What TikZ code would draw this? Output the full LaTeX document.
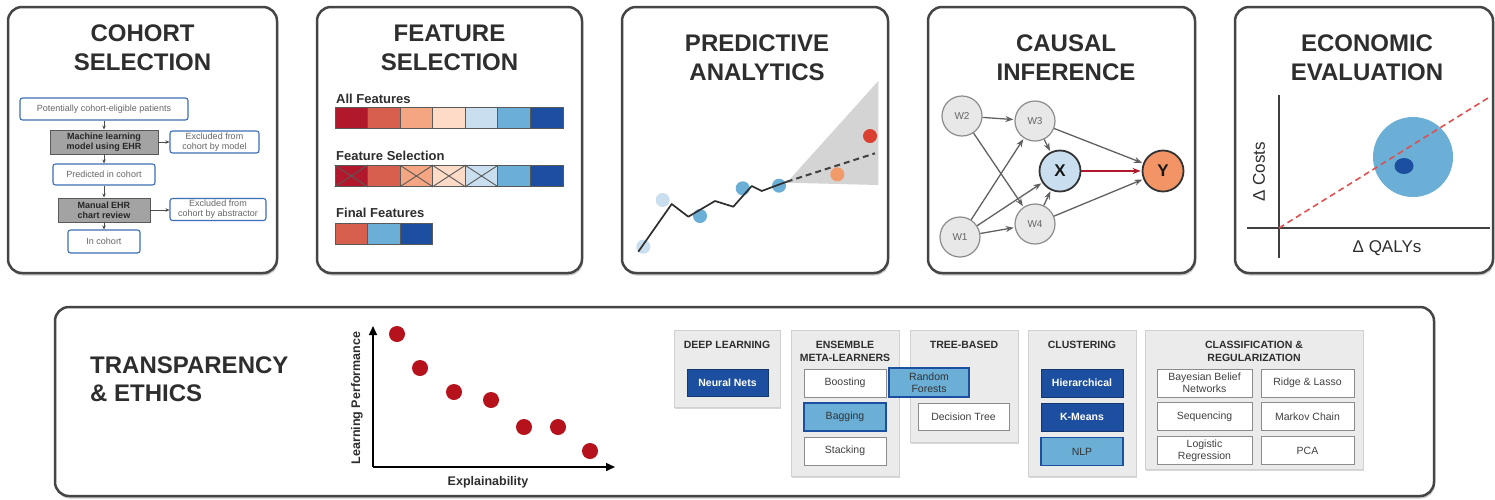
\documentclass[tikz,border=0pt]{standalone}
\usepackage{fontspec}
\setmainfont{Liberation Sans}
\usetikzlibrary{shadows,arrows.meta,shapes.geometric}

\definecolor{rd1}{HTML}{B2182B}
\definecolor{rd2}{HTML}{D6604D}
\definecolor{rd3}{HTML}{F4A582}
\definecolor{rd4}{HTML}{FDDBC7}
\definecolor{bu1}{HTML}{C9DFF0}
\definecolor{bu2}{HTML}{6BAED6}
\definecolor{bu3}{HTML}{1C4FA0}
\definecolor{ink}{HTML}{2E2E2E}
\definecolor{frame}{HTML}{454545}
\definecolor{flowblue}{HTML}{3D6FB6}
\definecolor{subgray}{HTML}{EBEBEB}
\definecolor{dotred}{HTML}{B5121B}
\definecolor{fcorange}{HTML}{F39A6B}
\definecolor{fcred}{HTML}{D9402F}
\definecolor{conegray}{HTML}{D4D4D4}
\definecolor{yorange}{HTML}{F29465}
\definecolor{icerdash}{HTML}{E05050}

\newcommand{\setfs}[2]{\fontsize{#1}{#2}\selectfont}

\tikzset{
  panel/.style={draw=frame, line width=2.5pt, rounded corners=14pt, fill=white,
    drop shadow={shadow xshift=1pt, shadow yshift=-2.5pt, opacity=0.4}},
  ptitle/.style={font=\bfseries\setfs{24}{29}, text=ink, align=center, inner sep=0},
  flowbox/.style={draw=flowblue, line width=1.1pt, rounded corners=2.5pt, fill=white,
    text=black!60, font=\setfs{9}{10}, align=center, inner sep=0},
  procbox/.style={draw=black!65, line width=0.9pt, fill=black!36, text=black!85,
    font=\bfseries\setfs{9}{10}, align=center, inner sep=0},
  flowarrow/.style={-{Stealth[length=4pt,width=3.5pt]}, draw=black!70, line width=0.8pt},
  flabel/.style={font=\bfseries\setfs{13}{15}, text=ink, anchor=west, inner sep=0},
  cell/.style={draw=black!65, line width=0.8pt, minimum width=32.57pt, minimum height=21pt, inner sep=0},
  crossline/.style={draw=black!65, line width=0.9pt},
  pdot/.style={circle, minimum size=14pt, inner sep=0},
  wnode/.style={circle, minimum size=40pt, inner sep=0, fill=black!9, draw=black!45,
    line width=1.2pt, text=black!60, font=\setfs{10}{12}},
  keynode/.style={circle, minimum size=41pt, inner sep=0, draw=black!80, line width=1.8pt,
    text=black!90, font=\bfseries\setfs{17}{19}},
  dagedge/.style={-{Stealth[length=8pt,width=6pt]}, draw=black!62, line width=1.3pt, shorten >=1pt},
  axisline/.style={draw=black!75, line width=1.2pt},
  axislabel/.style={text=ink, font=\setfs{17}{19}, inner sep=0},
  sub/.style={fill=subgray, draw=black!18, line width=0.6pt,
    drop shadow={shadow xshift=0.5pt, shadow yshift=-2pt, opacity=0.3}},
  subtitle/.style={font=\bfseries\setfs{10.5}{13}, text=ink, align=center, inner sep=0},
  item/.style={draw=black!45, line width=0.8pt, fill=white, text=black!75,
    font=\setfs{10.5}{12}, align=center, inner sep=0, minimum width=82pt, minimum height=28pt},
  itemdark/.style={item, fill=bu3, draw=bu3!70!black, text=white, font=\bfseries\setfs{10.5}{12}},
  itemlight/.style={item, fill=bu2, draw=bu3, line width=1.5pt, text=black!80},
  tradeaxis/.style={draw=black, line width=1.5pt, -{Triangle[length=9pt,width=8pt]}},
  tdot/.style={circle, minimum size=16pt, inner sep=0, fill=dotred},
}

\begin{document}
\begin{tikzpicture}[x=1pt,y=-1pt]
\useasboundingbox (0,0) rectangle (1495,499);

% ---------- frames ----------
\draw[panel] (8,7) rectangle (277,273);
\draw[panel] (317,7) rectangle (582,273);
\draw[panel] (622,7) rectangle (888,273);
\draw[panel] (928,7) rectangle (1195,273);
\draw[panel] (1235,7) rectangle (1493,273);
\draw[panel] (55,307) rectangle (1434,496);

% ---------- titles ----------
\node[ptitle] (tcoh) at (142.5,48) {COHORT\\SELECTION};
\node[ptitle] (tfeat) at (449.5,48) {FEATURE\\SELECTION};
\node[ptitle] (tpred) at (757,57.5) {PREDICTIVE\\ANALYTICS};
\node[ptitle] (tcaus) at (1066,57.5) {CAUSAL\\INFERENCE};
\node[ptitle] (tecon) at (1367,57.5) {ECONOMIC\\EVALUATION};

% ---------- cohort selection flow ----------
\node[flowbox, minimum width=168pt, minimum height=22pt] (p1) at (104,109) {Potentially cohort-eligible patients};
\node[procbox, minimum width=108pt, minimum height=24pt] (m1) at (104,142) {Machine learning\\model using EHR};
\node[flowbox, minimum width=89pt, minimum height=22pt] (e1) at (214.5,142) {Excluded from\\cohort by model};
\node[flowbox, minimum width=102pt, minimum height=21pt] (p2) at (104,174.5) {Predicted in cohort};
\node[procbox, minimum width=92pt, minimum height=24pt] (m2) at (104,210) {Manual EHR\\chart review};
\node[flowbox, minimum width=96pt, minimum height=22pt] (e2) at (218,209.5) {Excluded from\\cohort by abstractor};
\node[flowbox, minimum width=72pt, minimum height=23pt] (p3) at (104,241.5) {In cohort};
\draw[flowarrow] (p1) -- (m1);
\draw[flowarrow] (m1) -- (p2);
\draw[flowarrow] (p2) -- (m2);
\draw[flowarrow] (m2) -- (p3);
\draw[flowarrow] (m1.east) -- (e1.west |- m1.east);
\draw[flowarrow] (m2.east) -- (e2.west |- m2.east);

% ---------- feature selection ----------
\node[flabel] (lall) at (336,99) {All Features};
\node[flabel] (lsel) at (336,156) {Feature Selection};
\node[flabel] (lfin) at (336,213) {Final Features};
\foreach \c [count=\i] in {rd1,rd2,rd3,rd4,bu1,bu2,bu3} {
  \node[cell, fill=\c] (a\i) at ({335+32.57*(\i-0.5)},117.5) {};
  \node[cell, fill=\c] (b\i) at ({335+32.57*(\i-0.5)},176) {};
}
\foreach \i in {1,3,4,5}
  \draw[crossline] (b\i.north west) -- (b\i.south east) (b\i.south west) -- (b\i.north east);
\foreach \c [count=\i] in {rd2,bu2,bu3}
  \node[cell, fill=\c] (c\i) at ({335+32.57*(\i-0.5)},234) {};

% ---------- predictive analytics ----------
\fill[conegray] (786.7,182.7) -- (878.3,81) -- (878.3,185) -- cycle;
\node[pdot, fill=bu1] (d1) at (643.3,246.7) {};
\node[pdot, fill=bu1] (d2) at (662.7,200) {};
\node[pdot, fill=bu2] (d3) at (700,216) {};
\node[pdot, fill=bu2] (d4) at (742.7,188.3) {};
\node[pdot, fill=bu2] (d5) at (779,185.7) {};
\node[pdot, fill=fcorange] (d6) at (837.3,174.3) {};
\node[pdot, fill=fcred] (d7) at (870,136) {};
\draw[black!82, line width=1.7pt, line join=round]
  (638.3,251.7) -- (671.7,204) -- (688.3,216.7) -- (715,201) -- (733.3,206.7)
  -- (751.7,186) -- (761.7,191) -- (786.7,181.7);
\draw[black!75, line width=2pt, dash pattern=on 6pt off 4pt] (786.7,181.7) -- (875,153.3);

% ---------- causal inference ----------
\node[wnode] (w2) at (962,116) {W2};
\node[wnode] (w3) at (1035,121) {W3};
\node[wnode] (w1) at (960,237) {W1};
\node[wnode] (w4) at (1035,224) {W4};
\node[keynode, fill=bu1] (x) at (1060,171) {X};
\node[keynode, fill=yorange] (y) at (1163,171) {Y};
\draw[dagedge] (w2) -- (w3);
\draw[dagedge] (w2) -- (w4);
\draw[dagedge] (w1) -- (w3);
\draw[dagedge] (w1) -- (x);
\draw[dagedge] (w1) -- (w4);
\draw[dagedge] (w3) -- (x);
\draw[dagedge] (w4) -- (x);
\draw[dagedge] (w3) -- (y);
\draw[dagedge] (w4) -- (y);
\draw[dagedge, draw=rd1, line width=1.8pt] (x) -- (y);

% ---------- economic evaluation ----------
\draw[axisline] (1279,95) -- (1279,258);
\draw[axisline] (1247,228) -- (1490,228);
\node[circle, fill=bu2, minimum size=80pt, inner sep=0] (ci) at (1413,157) {};
\coordinate (icer0) at (1279,228);
\coordinate (icer1) at (1488,98);
\draw[icerdash, line width=1.6pt, dash pattern=on 6pt off 4pt] (icer0) -- (icer1);
\node[ellipse, fill=bu3, minimum width=19pt, minimum height=16pt, inner sep=0] (pe) at (1404,166) {};
\node[axislabel, rotate=90] (lcost) at (1259,172) {Δ Costs};
\node[axislabel] (lqaly) at (1387,248) {Δ QALYs};

% ---------- transparency & ethics ----------
\node[font=\bfseries\setfs{24}{28}, text=ink, align=left, anchor=west, inner sep=0] (tte) at (90,379) {TRANSPARENCY\\\& ETHICS};

\coordinate (to) at (373,467);
\coordinate (ty) at (373,326);
\coordinate (tx) at (615,467);
\draw[tradeaxis] (to) -- (ty);
\draw[tradeaxis] (to) -- (tx);
\node[tdot] (s1) at (397,334) {};
\node[tdot] (s2) at (420,368) {};
\node[tdot] (s3) at (454,392) {};
\node[tdot] (s4) at (491,400) {};
\node[tdot] (s5) at (524,427) {};
\node[tdot] (s6) at (558,427) {};
\node[tdot] (s7) at (590,451) {};
\node[rotate=90, font=\bfseries\setfs{12.5}{14}, text=ink, inner sep=0] (lperf) at (357,398) {Learning Performance};
\node[font=\bfseries\setfs{12.5}{14}, text=ink, inner sep=0] (lexp) at (488,482) {Explainability};

% method families
\draw[sub] (674,330) rectangle (780,407);
\draw[sub] (791,330) rectangle (899,476);
\draw[sub] (910,330) rectangle (1018,442);
\draw[sub] (1028,330) rectangle (1136,476);
\draw[sub] (1145,330) rectangle (1363,469);

\node[subtitle] (hdl) at (727,345) {DEEP LEARNING};
\node[subtitle] (hens) at (845,351.5) {ENSEMBLE\\META-LEARNERS};
\node[subtitle] (htree) at (964,345) {TREE-BASED};
\node[subtitle] (hclu) at (1082,345) {CLUSTERING};
\node[subtitle] (hcls) at (1254,351.5) {CLASSIFICATION \&\\REGULARIZATION};

\node[itemdark, minimum width=81pt, minimum height=27pt] (nn) at (727.5,382.5) {Neural Nets};
\node[item] (boost) at (845,383) {Boosting};
\node[itemlight] (bag) at (845,417) {Bagging};
\node[item] (stack) at (845,451) {Stacking};
\node[item, minimum width=91pt, minimum height=27pt] (dtree) at (963.5,416.5) {Decision Tree};
\node[itemdark] (hier) at (1082,383) {Hierarchical};
\node[itemdark] (km) at (1082,417) {K-Means};
\node[itemlight] (nlp) at (1082,451.5) {NLP};
\node[item, minimum width=95pt] (bbn) at (1204.5,383) {Bayesian Belief\\Networks};
\node[item, minimum width=93pt] (rl) at (1307.5,383) {Ridge \& Lasso};
\node[item, minimum width=95pt] (seq) at (1204.5,416.5) {Sequencing};
\node[item, minimum width=93pt] (mc) at (1307.5,416.5) {Markov Chain};
\node[item, minimum width=95pt] (lr) at (1204.5,450.5) {Logistic\\Regression};
\node[item, minimum width=93pt] (pca) at (1307.5,450.5) {PCA};
\node[itemlight, minimum width=80pt, minimum height=29pt] (rf) at (929,382.5) {Random\\Forests};

\end{tikzpicture}
\end{document}
